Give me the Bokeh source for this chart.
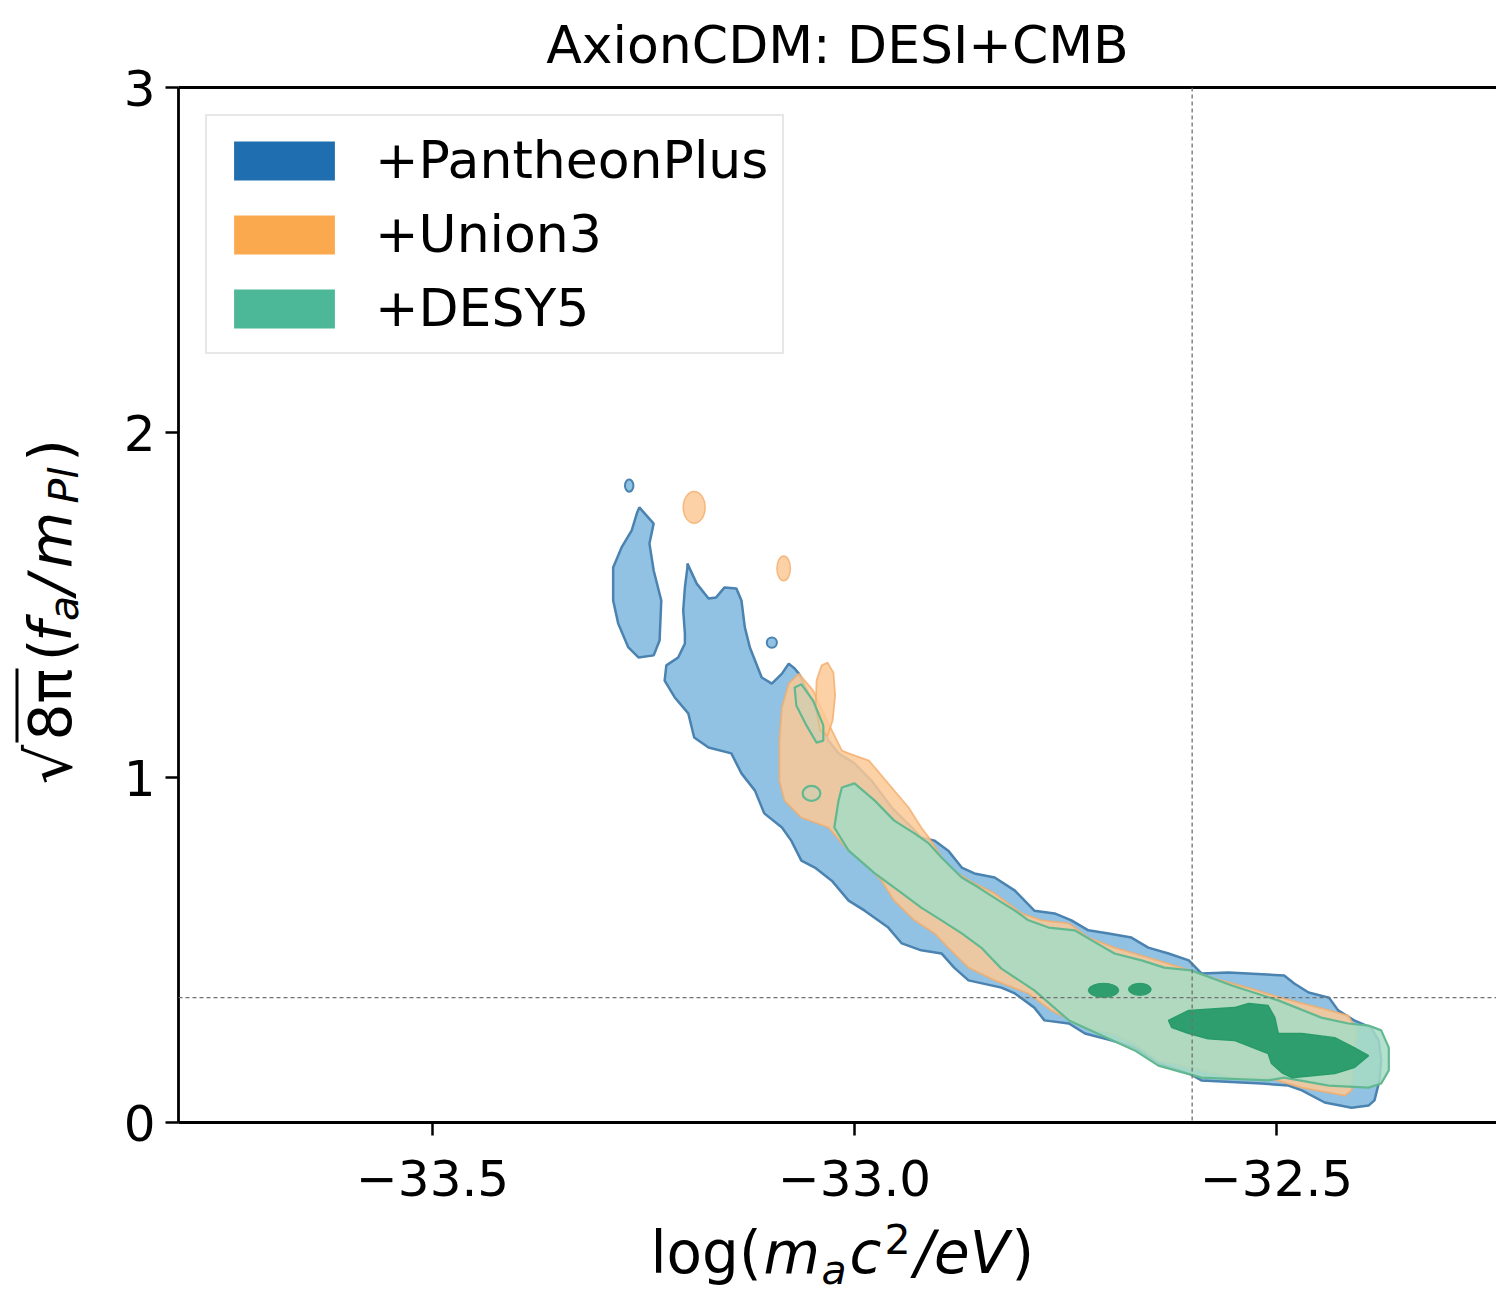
from bokeh.plotting import figure
from bokeh.layouts import column, row
from bokeh.models import (Range1d, FixedTicker, LinearAxis, Span, Label, Legend, Title,
                          LegendItem, BoxAnnotation, CustomJSTickFormatter)
from bokeh.embed import file_html
from bokeh.resources import INLINE
import math

FONT = "DejaVu Sans"

# ---------------- data ----------------
x_ticks = [-33.5, -33.0, -32.5]
y_ticks = [0, 1, 2, 3]
legend_labels = ["+PantheonPlus", "+Union3", "+DESY5"]
title_text = "AxionCDM: DESI+CMB"
ref_logm = -32.6
ref_f = 0.362

# PantheonPlus 95% region (main band)
pp_main_x = [-33.198, -33.187, -33.173, -33.164, -33.154, -33.140, -33.134, -33.130, -33.124, -33.110,
             -33.098, -33.086, -33.078, -33.071, -33.066, -33.047, -33.031, -33.019, -33.000, -32.980,
             -32.956, -32.932, -32.921, -32.905, -32.889, -32.873, -32.858, -32.834, -32.810, -32.787,
             -32.763, -32.743, -32.723, -32.699, -32.672, -32.652, -32.628, -32.604, -32.589, -32.557,
             -32.491, -32.479, -32.462, -32.438, -32.427, -32.408, -32.388, -32.379, -32.376, -32.378,
             -32.384, -32.391, -32.411, -32.443, -32.470, -32.486, -32.518, -32.589, -32.604, -32.640,
             -32.668, -32.696, -32.727, -32.746, -32.775, -32.787, -32.810, -32.826, -32.865, -32.882,
             -32.897, -32.921, -32.944, -32.960, -32.988, -33.007, -33.027, -33.047, -33.063, -33.075,
             -33.086, -33.107, -33.118, -33.134, -33.146, -33.173, -33.190, -33.197, -33.213, -33.225,
             -33.223, -33.209, -33.201, -33.201, -33.203, -33.201, -33.198]
pp_main_y = [1.620, 1.562, 1.519, 1.522, 1.551, 1.548, 1.513, 1.435, 1.377, 1.290,
             1.272, 1.301, 1.330, 1.316, 1.301, 1.203, 1.107, 1.070, 1.041, 0.991,
             0.913, 0.855, 0.826, 0.817, 0.788, 0.739, 0.722, 0.710, 0.672, 0.614,
             0.606, 0.586, 0.557, 0.548, 0.536, 0.507, 0.490, 0.470, 0.432, 0.435,
             0.426, 0.403, 0.377, 0.362, 0.325, 0.296, 0.275, 0.238, 0.180, 0.122,
             0.064, 0.049, 0.043, 0.058, 0.093, 0.107, 0.113, 0.122, 0.142, 0.171,
             0.217, 0.238, 0.258, 0.287, 0.296, 0.333, 0.374, 0.391, 0.412, 0.449,
             0.490, 0.499, 0.519, 0.565, 0.614, 0.643, 0.701, 0.739, 0.759, 0.817,
             0.855, 0.896, 0.962, 1.012, 1.070, 1.087, 1.116, 1.186, 1.232, 1.281,
             1.325, 1.348, 1.388, 1.417, 1.484, 1.551, 1.609]
# PantheonPlus isolated island (left arm)
pp_island_x = [-33.255, -33.238, -33.243, -33.238, -33.229, -33.231, -33.238, -33.256, -33.268,
               -33.280, -33.286, -33.286, -33.276, -33.264, -33.258]
pp_island_y = [1.783, 1.736, 1.678, 1.600, 1.513, 1.397, 1.354, 1.348, 1.377,
               1.446, 1.513, 1.609, 1.667, 1.716, 1.765]
# PantheonPlus small specks
pp_blob_x = [-33.267, -33.098]
pp_blob_y = [1.846, 1.391]
pp_blob_w = [0.010, 0.012]
pp_blob_h = [0.035, 0.030]

# Union3 95% region
u3_main_x = [-33.066, -33.049, -33.031, -33.015, -33.007, -32.983, -32.956, -32.936, -32.921, -32.912,
             -32.889, -32.858, -32.834, -32.802, -32.778, -32.746, -32.723, -32.692, -32.652, -32.613,
             -32.573, -32.530, -32.491, -32.450, -32.415, -32.405, -32.409, -32.411, -32.419,
             -32.470, -32.510, -32.550, -32.589, -32.640, -32.668, -32.696, -32.727, -32.767, -32.794,
             -32.834, -32.865, -32.889, -32.905, -32.929, -32.953, -32.968, -32.988, -33.007, -33.031,
             -33.063, -33.083, -33.089, -33.089, -33.086, -33.078]
u3_main_y = [1.301, 1.252, 1.157, 1.078, 1.070, 1.049, 0.971, 0.913, 0.855, 0.826,
             0.739, 0.693, 0.664, 0.606, 0.586, 0.577, 0.536, 0.507, 0.478, 0.449,
             0.417, 0.388, 0.359, 0.333, 0.310, 0.267, 0.180, 0.093, 0.078,
             0.101, 0.130, 0.130, 0.151, 0.180, 0.229, 0.258, 0.275, 0.325, 0.374,
             0.412, 0.449, 0.507, 0.548, 0.586, 0.643, 0.701, 0.751, 0.788, 0.855,
             0.884, 0.933, 0.991, 1.107, 1.203, 1.272]
u3_drop_x = [-33.039, -33.032, -33.025, -33.023, -33.026, -33.032, -33.041, -33.046, -33.045]
u3_drop_y = [1.325, 1.333, 1.304, 1.238, 1.165, 1.122, 1.136, 1.209, 1.281]
u3_blob_x = [-33.190, -33.084]
u3_blob_y = [1.783, 1.606]
u3_blob_w = [0.026, 0.016]
u3_blob_h = [0.092, 0.072]

# DESY5 95% region
dy5_main_x = [-33.015, -33.000, -32.976, -32.953, -32.929, -32.912, -32.897, -32.873, -32.853, -32.829,
              -32.810, -32.794, -32.770, -32.739, -32.719, -32.692, -32.660, -32.633, -32.601, -32.553,
              -32.498, -32.447, -32.415, -32.391, -32.376, -32.367, -32.367, -32.376, -32.391,
              -32.438, -32.491, -32.510, -32.589, -32.640, -32.668, -32.707, -32.746, -32.787, -32.826,
              -32.850, -32.873, -32.897, -32.921, -32.948, -32.976, -33.007, -33.024, -33.019]
dy5_main_y = [0.971, 0.983, 0.933, 0.875, 0.838, 0.809, 0.768, 0.710, 0.681, 0.643,
              0.614, 0.586, 0.565, 0.557, 0.528, 0.490, 0.470, 0.449, 0.441, 0.397,
              0.354, 0.304, 0.287, 0.281, 0.267, 0.217, 0.151, 0.113, 0.101,
              0.107, 0.130, 0.122, 0.130, 0.165, 0.209, 0.252, 0.296, 0.383, 0.446,
              0.507, 0.548, 0.586, 0.623, 0.672, 0.722, 0.788, 0.855, 0.933]
dy5_streak_x = [-33.071, -33.063, -33.049, -33.037, -33.037, -33.045, -33.057, -33.069]
dy5_streak_y = [1.261, 1.270, 1.223, 1.151, 1.107, 1.101, 1.151, 1.209]
dy5_ring_x = [-33.051]
dy5_ring_y = [0.954]
dy5_ring_w = [0.021]
dy5_ring_h = [0.043]
# DESY5 68% region
dy5_core_x = [-32.628, -32.604, -32.550, -32.533, -32.510, -32.502, -32.498, -32.470, -32.431, -32.408,
              -32.391, -32.408, -32.431, -32.482, -32.494, -32.506, -32.510, -32.550, -32.581, -32.604,
              -32.624]
dy5_core_y = [0.296, 0.325, 0.333, 0.345, 0.339, 0.304, 0.258, 0.258, 0.246, 0.217,
              0.194, 0.159, 0.142, 0.130, 0.145, 0.171, 0.200, 0.238, 0.243, 0.258,
              0.275]
dy5_core_blob_x = [-32.705, -32.662]
dy5_core_blob_y = [0.383, 0.386]
dy5_core_blob_w = [0.036, 0.027]
dy5_core_blob_h = [0.041, 0.035]

# ---------------- styles ----------------
BLUE_FILL, BLUE_LINE, BLUE_KEY = "#8cbfe2", "#4a82b0", "#1f6eb0"
ORANGE_FILL, ORANGE_LINE, ORANGE_KEY = "#fbc997", "#f2ad6a", "#fba94f"
GREEN_FILL, GREEN_LINE, GREEN_KEY = "#a6dcc4", "#62b890", "#4cb898"
GREEN_CORE = "#289b69"

W, W_YLAB = 1496, 104
BORDER_TOP, FRAME_H, BORDER_BOTTOM = 87, 1035, 86
H_MAIN = BORDER_TOP + FRAME_H + BORDER_BOTTOM
H_XLAB = 1297 - H_MAIN
FRAME_TOP = BORDER_TOP                    # page y of the plot frame's top edge
FRAME_BOTTOM = FRAME_TOP + FRAME_H        # page y of the plot frame's bottom edge
SHIFT = 0.36   # baseline correction (fraction of font size) for horizontal texts


def blank(w, h):
    f = figure(width=w, height=h, output_backend="svg", toolbar_location=None, title=None,
               x_range=Range1d(0, w), y_range=Range1d(0, h), min_border=0,
               x_axis_location=None, y_axis_location=None)
    f.outline_line_color = None
    f.grid.visible = False
    f.background_fill_color = "white"
    f.border_fill_color = "white"
    return f


def lab(f, text, x, y, size, style="normal", align="left"):
    f.add_layout(Label(x=x, y=y + SHIFT * size, text=text, text_font=FONT,
                       text_font_size=f"{size}px", text_font_style=style, text_color="black",
                       text_align=align, text_baseline="alphabetic"))


def vlab(f, text, xc, yc, size, style="normal"):
    # rotated text, anchored at its centre
    f.add_layout(Label(x=xc, y=yc, text=text, text_font=FONT, text_font_size=f"{size}px",
                       text_font_style=style, text_color="black", angle=math.pi / 2,
                       text_align="center", text_baseline="middle"))


# ---------------- main plot ----------------
p = figure(width=W - W_YLAB, height=H_MAIN, output_backend="svg", toolbar_location=None,
           x_range=Range1d(-33.801, -32.2394), y_range=Range1d(0, 3),
           min_border_left=74, min_border_right=0, min_border_top=BORDER_TOP,
           min_border_bottom=BORDER_BOTTOM)
p.title = Title(text=title_text, align="center", text_font=FONT, text_font_size="52px",
                text_font_style="normal", text_color="black", standoff=25)
p.outline_line_color = None
p.grid.visible = False
p.background_fill_color = "white"
p.border_fill_color = "white"

xa = p.xaxis[0]
ya = p.yaxis[0]
xa.ticker = FixedTicker(ticks=x_ticks)
ya.ticker = FixedTicker(ticks=y_ticks)
xa.formatter = CustomJSTickFormatter(code="return (tick < 0 ? '\u2212' : '') + Math.abs(tick).toFixed(1);")
ya.formatter = CustomJSTickFormatter(code="return tick.toFixed(0);")
for ax in (xa, ya):
    ax.axis_line_width = 2.8
    ax.axis_line_color = "black"
    ax.major_tick_line_width = 2.5
    ax.major_tick_line_color = "black"
    ax.major_tick_out = 13
    ax.major_tick_in = 0
    ax.minor_tick_line_color = None
    ax.major_label_text_font = FONT
    ax.major_label_text_font_size = "50px"
    ax.major_label_text_color = "black"
xa.major_label_standoff = 24
ya.major_label_standoff = 10

top = LinearAxis(ticker=FixedTicker(ticks=[]), axis_line_width=2.8, axis_line_color="black",
                 major_tick_line_color=None, minor_tick_line_color=None,
                 major_tick_out=0, minor_tick_out=0, major_tick_in=0, minor_tick_in=0,
                 major_label_standoff=0, axis_label_standoff=0,
                 major_label_text_font_size="0px")
p.add_layout(top, "above")

# contours
p.patches(xs=[pp_main_x, pp_island_x], ys=[pp_main_y, pp_island_y],
          fill_color=BLUE_FILL, fill_alpha=0.95, line_color=BLUE_LINE, line_width=2.5)
p.ellipse(x=pp_blob_x, y=pp_blob_y, width=pp_blob_w, height=pp_blob_h,
          fill_color=BLUE_FILL, fill_alpha=0.95, line_color=BLUE_LINE, line_width=2)

p.patches(xs=[u3_main_x, u3_drop_x], ys=[u3_main_y, u3_drop_y],
          fill_color=ORANGE_FILL, fill_alpha=0.85, line_color=ORANGE_LINE, line_width=1.8, line_alpha=0.8)
p.ellipse(x=u3_blob_x, y=u3_blob_y, width=u3_blob_w, height=u3_blob_h,
          fill_color=ORANGE_FILL, fill_alpha=0.85, line_color=ORANGE_LINE, line_width=1.5, line_alpha=0.8)

p.patch(x=dy5_main_x, y=dy5_main_y, fill_color=GREEN_FILL, fill_alpha=0.85,
        line_color=GREEN_LINE, line_width=2.2)
p.patch(x=dy5_streak_x, y=dy5_streak_y, fill_color=GREEN_FILL, fill_alpha=0.3,
        line_color=GREEN_LINE, line_width=2.2)
p.ellipse(x=dy5_ring_x, y=dy5_ring_y, width=dy5_ring_w, height=dy5_ring_h,
          fill_color=GREEN_FILL, fill_alpha=0.3, line_color=GREEN_LINE, line_width=2.2)
p.patch(x=dy5_core_x, y=dy5_core_y, fill_color=GREEN_CORE, fill_alpha=0.95,
        line_color=GREEN_CORE, line_width=1.5)
p.ellipse(x=dy5_core_blob_x, y=dy5_core_blob_y, width=dy5_core_blob_w, height=dy5_core_blob_h,
          fill_color=GREEN_CORE, fill_alpha=0.95, line_color=GREEN_CORE, line_width=1)

# reference lines
p.add_layout(Span(location=ref_logm, dimension="height", line_color="#707070",
                  line_dash="4 3", line_width=1.3))
p.add_layout(Span(location=ref_f, dimension="width", line_color="#707070",
                  line_dash="4 3", line_width=1.3))

# legend (key renderers are hidden copies of the regions, drawn in solid colours)
keys = []
for lbl, col, (kx, ky) in zip(legend_labels, [BLUE_KEY, ORANGE_KEY, GREEN_KEY],
                              [(pp_main_x, pp_main_y), (u3_main_x, u3_main_y), (dy5_main_x, dy5_main_y)]):
    r = p.patch(x=kx, y=ky, fill_color=col, fill_alpha=1.0, line_color=None, visible=False)
    keys.append(LegendItem(label=lbl, renderers=[r]))
legend = Legend(items=keys, location="top_left", margin=27, padding=14, spacing=14,
                glyph_width=126, glyph_height=49, label_height=40, label_standoff=28,
                label_text_font=FONT, label_text_font_size="52px", label_text_color="black",
                border_line_color="#d0d0d0", border_line_width=2,
                background_fill_color="white", background_fill_alpha=0.85,
                inactive_fill_alpha=0.0)
p.add_layout(legend)

# ---------------- x label: log(m_a c^2/eV) ----------------
xfig = blank(W, H_XLAB)
lab(xfig, "log(", 650, 24, 58)
lab(xfig, "m", 763, 24, 58, "italic")
lab(xfig, "a", 821, 13, 41, "italic")
lab(xfig, "c", 849, 24, 58, "italic")
lab(xfig, "2", 884, 44, 41)
lab(xfig, "/eV", 914, 24, 58, "italic")
lab(xfig, ")", 1011, 24, 58)

# ---------------- y label: sqrt(8 pi) (f_a/m_Pl), rotated ----------------
# this panel's frame is aligned with the plot frame, so its y range is expressed in page pixels
yfig = figure(width=W_YLAB, height=H_MAIN, output_backend="svg", toolbar_location=None, title=None,
              x_range=Range1d(0, W_YLAB), y_range=Range1d(FRAME_BOTTOM, FRAME_TOP),
              min_border_left=0, min_border_right=0, min_border_top=BORDER_TOP,
              min_border_bottom=BORDER_BOTTOM, x_axis_location=None, y_axis_location=None)
yfig.outline_line_color = None
yfig.grid.visible = False
yfig.background_fill_color = "white"
yfig.border_fill_color = "white"
vlab(yfig, "\u221a", 48.5, 764, 62)
vlab(yfig, "8\u03c0", 50, 704, 58)
vlab(yfig, "(", 50, 649.5, 58)
vlab(yfig, "f", 50, 631, 58, "italic")
vlab(yfig, "a", 63, 608, 41, "italic")
vlab(yfig, "/", 50, 584.5, 58, "italic")
vlab(yfig, "m", 50, 539.5, 58, "italic")
vlab(yfig, "Pl", 63, 485, 41, "italic")
vlab(yfig, ")", 50, 450, 58)
yfig.add_layout(BoxAnnotation(left=15, right=18, bottom=742, top=668,
                              fill_color="black", fill_alpha=1, line_color=None))

layout = column(row(yfig, p), xfig)
open("out.html", "w").write(file_html(layout, INLINE))
